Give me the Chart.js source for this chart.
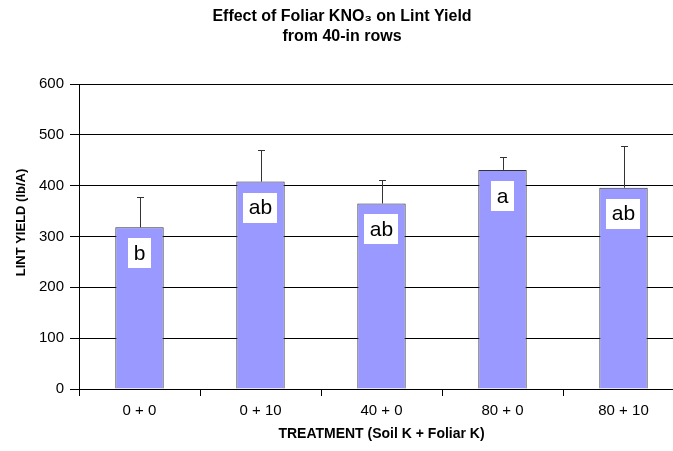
<!DOCTYPE html>
<html>
<head>
<meta charset="utf-8">
<script src="https://cdn.jsdelivr.net/npm/chart.js@4"></script>
<style>
    html, body { margin: 0; padding: 0; background: #fff; overflow: hidden; }
    #wrap { width: 690px; height: 451px; }
</style>
</head>
<body>
<div id="wrap"><canvas id="chart-yield" width="690" height="451"></canvas></div>
<script>
// 處理組合 (Soil K + Foliar K)
var treatments = ["0 + 0", "0 + 10", "40 + 0", "80 + 0", "80 + 10"];
// 皮棉產量 lb/A
var lintYield = [318, 408, 365, 431, 396];
// 誤差線 (往上)
var yieldError = [59, 63, 47, 26, 83];
// 顯著性字母
var sigLetters = ["b", "ab", "ab", "a", "ab"];
var yTicks = [0, 100, 200, 300, 400, 500, 600];
var yTitle = "LINT YIELD (lb/A)";

var FONT = "'Liberation Sans', Arial, sans-serif";

// 誤差線 + 字母方框 + Y軸標題
var barExtras = {
    id: "barExtras",
    afterDatasetsDraw: function (chart) {
        var ctx = chart.ctx;
        var yScale = chart.scales.y;
        var meta = chart.getDatasetMeta(0);
        ctx.save();
        meta.data.forEach(function (bar, i) {
            var x = Math.round(bar.x) + 0.5;
            var yTop = Math.round(yScale.getPixelForValue(lintYield[i] + yieldError[i])) + 0.5;
            ctx.strokeStyle = "#333";
            ctx.lineWidth = 1;
            ctx.beginPath();
            ctx.moveTo(x, bar.y);
            ctx.lineTo(x, yTop);
            ctx.moveTo(x - 3.5, yTop);
            ctx.lineTo(x + 3.5, yTop);
            ctx.stroke();

            // 白底字母
            ctx.font = "21px " + FONT;
            var w = ctx.measureText(sigLetters[i]).width + 11;
            var h = 30;
            var top = bar.y + 11;
            ctx.fillStyle = "#fff";
            ctx.fillRect(Math.round(bar.x - w / 2), Math.round(top), Math.round(w), h);
            ctx.fillStyle = "#000";
            ctx.textAlign = "center";
            ctx.textBaseline = "middle";
            ctx.fillText(sigLetters[i], bar.x, top + h / 2 + 1);
        });

        // Y軸標題 (原圖略偏上)
        var area = chart.chartArea;
        ctx.translate(21, (area.top + area.bottom) / 2 - 14);
        ctx.rotate(-Math.PI / 2);
        ctx.font = "bold 13px " + FONT;
        ctx.fillStyle = "#000";
        ctx.textAlign = "center";
        ctx.textBaseline = "middle";
        ctx.fillText(yTitle, 0, 0);
        ctx.restore();
    }
};

var ctx = document.getElementById("chart-yield").getContext("2d");
new Chart(ctx, {
    type: "bar",
    data: {
        labels: treatments,
        datasets: [{
            label: "Lint yield",
            data: lintYield,
            backgroundColor: "#9999ff",
            borderColor: "#333",
            borderWidth: 1,
            categoryPercentage: 1,
            barPercentage: 0.4
        }]
    },
    options: {
        responsive: false,
        animation: false,
        layout: { padding: { left: 0, right: 6, top: 0, bottom: 8 } },
        plugins: {
            legend: { display: false },
            tooltip: { enabled: false },
            title: {
                display: true,
                text: ["Effect of Foliar KNO\u2083 on Lint Yield", "from 40-in rows"],
                color: "#000",
                font: { family: FONT, size: 16, weight: "bold", lineHeight: 1.25 },
                padding: { top: 7, bottom: 37 }
            }
        },
        scales: {
            y: {
                min: 0,
                max: 600,
                afterBuildTicks: function (scale) {
                    scale.ticks = yTicks.map(function (v) { return { value: v }; });
                },
                afterFit: function (scale) { scale.width = 79; },
                border: { display: true, color: "#000", width: 1 },
                grid: {
                    color: "#000",
                    lineWidth: 1,
                    drawTicks: true,
                    tickLength: 9,
                    tickColor: "#000"
                },
                ticks: {
                    color: "#000",
                    padding: 6,
                    font: { family: FONT, size: 15 }
                }
            },
            x: {
                afterFit: function (scale) { scale.height = 54; },
                border: { display: true, color: "#000", width: 1 },
                grid: {
                    offset: true,
                    drawOnChartArea: false,
                    drawTicks: true,
                    tickLength: 7,
                    tickColor: "#000"
                },
                ticks: {
                    color: "#000",
                    padding: 6,
                    font: { family: FONT, size: 15 }
                },
                title: {
                    display: true,
                    text: "TREATMENT (Soil K + Foliar K)",
                    color: "#000",
                    font: { family: FONT, size: 14, weight: "bold" },
                    padding: { top: 0, bottom: 0 }
                }
            }
        }
    },
    plugins: [barExtras]
});
</script>
</body>
</html>
